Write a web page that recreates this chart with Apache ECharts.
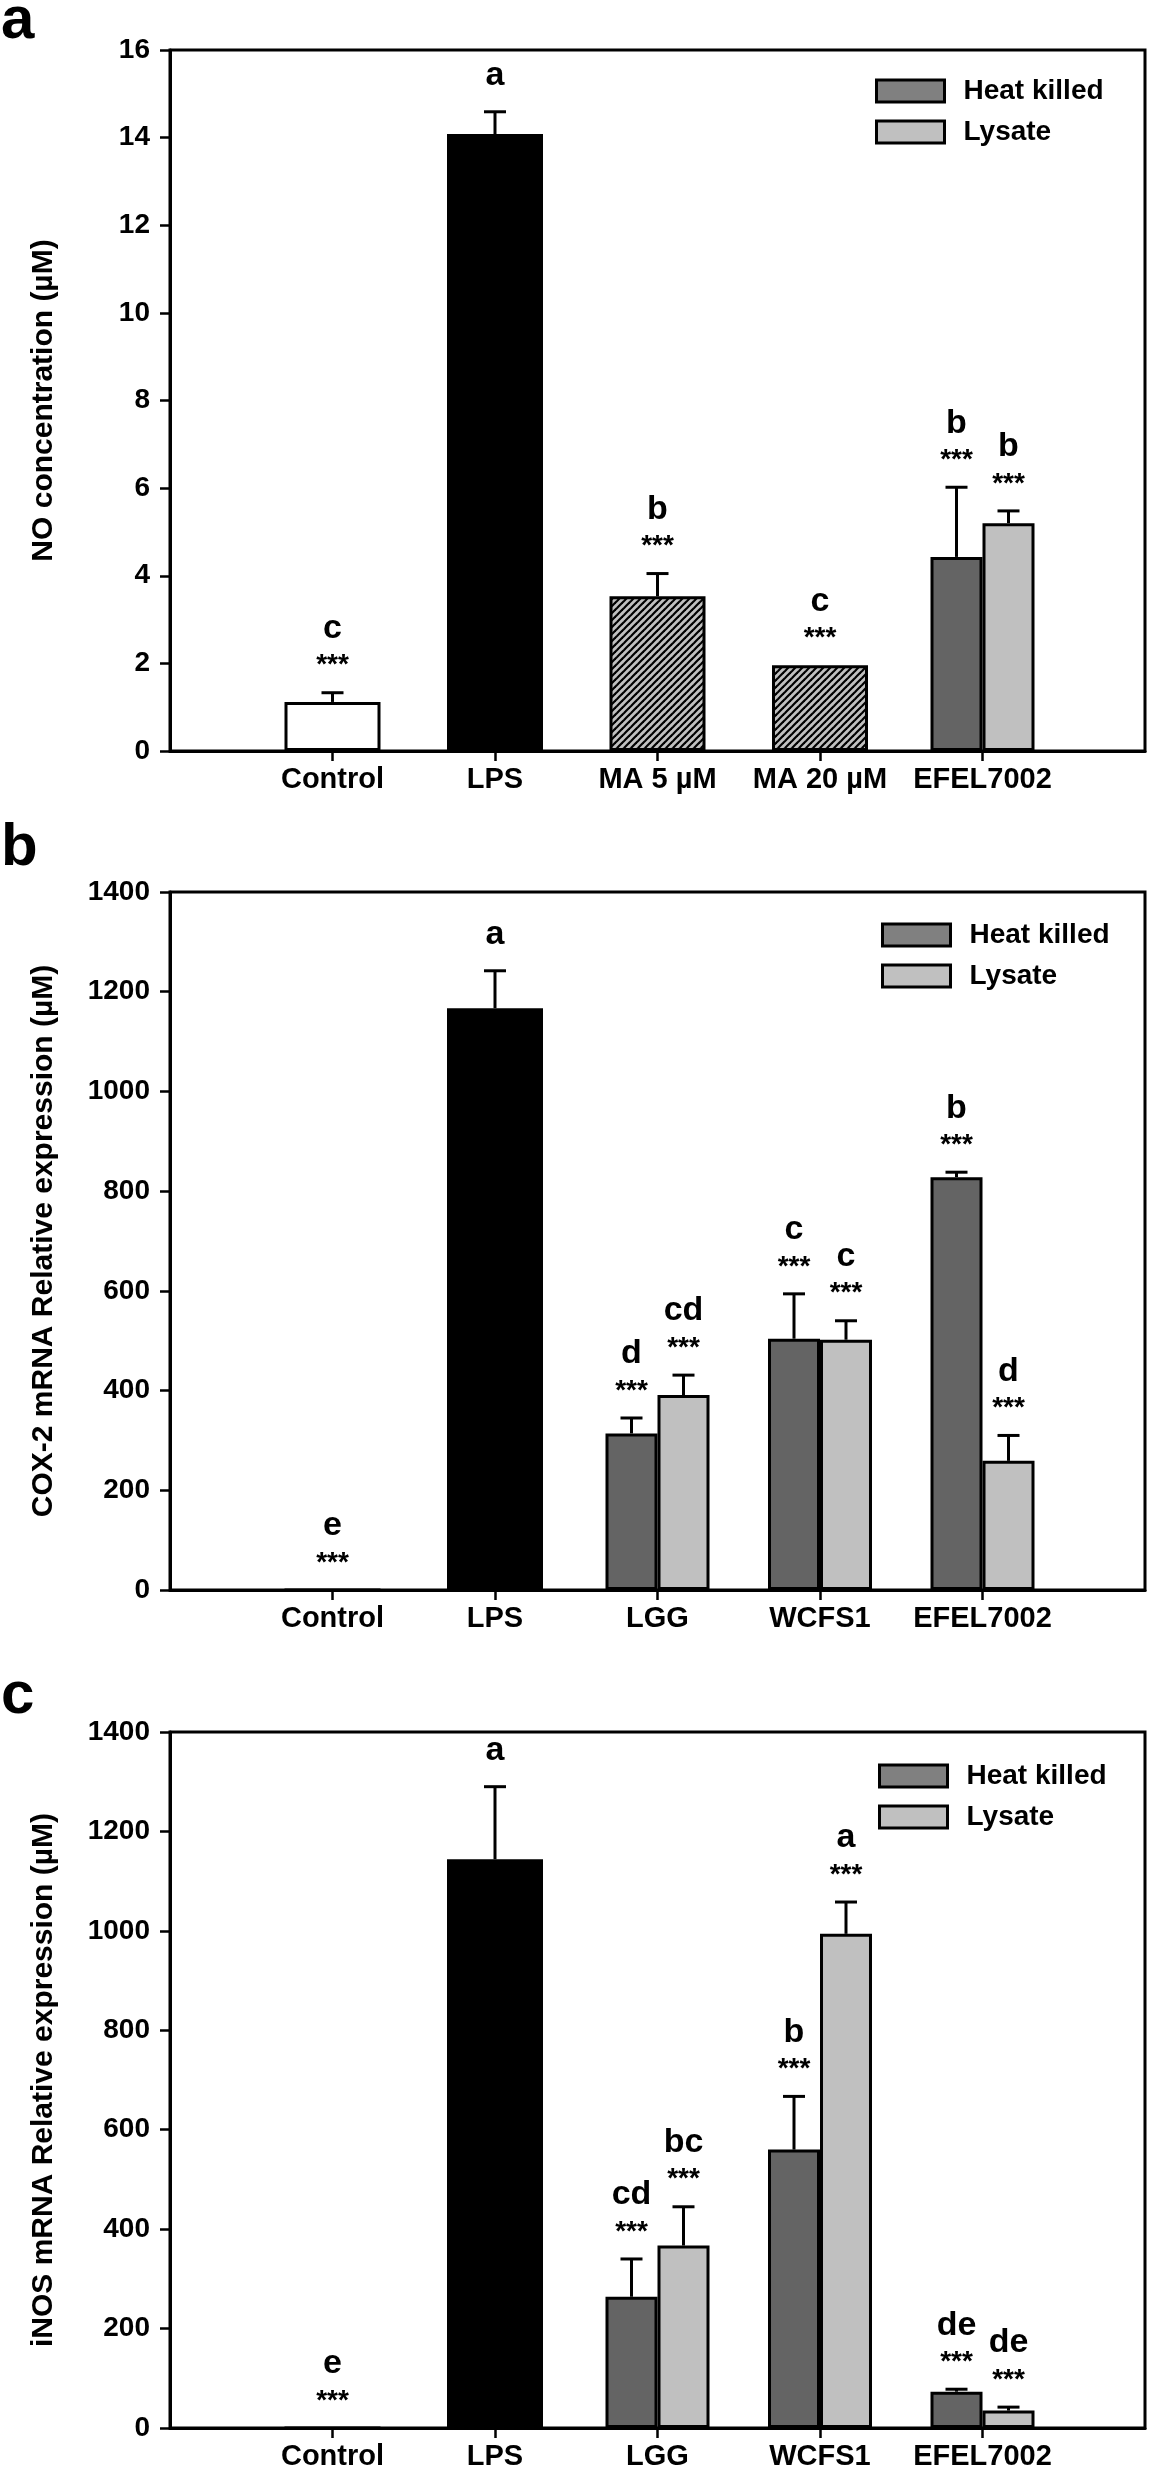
<!DOCTYPE html>
<html>
<head>
<meta charset="utf-8">
<script src="https://cdn.jsdelivr.net/npm/echarts@6/dist/echarts.min.js"></script>
<style>
html,body{margin:0;padding:0;background:#fff;}
#chart{width:1149px;height:2480px;}
</style>
</head>
<body>
<div id="chart"></div>
<script>
// ---------- DATA ----------
// Panel a: NO concentration
const catsA = ['Control', 'LPS', 'MA 5 µM', 'MA 20 µM', 'EFEL7002'];
const singleA = [1.12, 14.08, 3.53, 1.96, null];
const singleErrA = [0.21, 0.51, 0.52, 0, null];
const singleLetterA = ['c', 'a', 'b', 'c', ''];
const singleStarsA = ['***', '', '***', '***', ''];
const hkA = [null, null, null, null, 4.43];
const hkErrA = [null, null, null, null, 1.59];
const hkLetterA = ['', '', '', '', 'b'];
const lysA = [null, null, null, null, 5.20];
const lysErrA = [null, null, null, null, 0.28];
const lysLetterA = ['', '', '', '', 'b'];
const yTicksA = [0, 2, 4, 6, 8, 10, 12, 14, 16];

// Panel b: COX-2 mRNA
const catsB = ['Control', 'LPS', 'LGG', 'WCFS1', 'EFEL7002'];
const singleB = [0, 1167, null, null, null];
const singleErrB = [0, 75, null, null, null];
const singleLetterB = ['e', 'a', '', '', ''];
const singleStarsB = ['***', '', '', '', ''];
const hkB = [null, null, 314, 504, 828];
const hkErrB = [null, null, 31, 90, 10];
const hkLetterB = ['', '', 'd', 'c', 'b'];
const lysB = [null, null, 391, 502, 259];
const lysErrB = [null, null, 40, 38, 51];
const lysLetterB = ['', '', 'cd', 'c', 'd'];
const yTicksB = [0, 200, 400, 600, 800, 1000, 1200, 1400];

// Panel c: iNOS mRNA
const catsC = ['Control', 'LPS', 'LGG', 'WCFS1', 'EFEL7002'];
const singleC = [0, 1144, null, null, null];
const singleErrC = [0, 146, null, null, null];
const singleLetterC = ['e', 'a', '', '', ''];
const singleStarsC = ['***', '', '', '', ''];
const hkC = [null, null, 264, 560, 73];
const hkErrC = [null, null, 76, 107, 5];
const hkLetterC = ['', '', 'cd', 'b', 'de'];
const lysC = [null, null, 367, 994, 35];
const lysErrC = [null, null, 78, 64, 7];
const lysLetterC = ['', '', 'bc', 'a', 'de'];
const yTicksC = [0, 200, 400, 600, 800, 1000, 1200, 1400];

const yTitles = ['NO concentration (µM)', 'COX-2 mRNA Relative expression (µM)', 'iNOS mRNA Relative expression (µM)'];
const legendNames = ['Heat killed', 'Lysate'];
const panelLabels = ['a', 'b', 'c'];

// ---------- STYLE ----------
const FONT = '"Liberation Sans", Arial, Helvetica, sans-serif';
const HK_COLOR = '#646464';
const HK_LEGEND = '#808080';
const LYS_COLOR = '#c0c0c0';
const SINGLE_W = 96, GROUP_W = 52;

function makeHatch() {
  const c = document.createElement('canvas');
  c.width = 7; c.height = 7;
  const g = c.getContext('2d');
  g.fillStyle = '#c0c0c0';
  g.fillRect(0, 0, 7, 7);
  g.strokeStyle = '#000';
  g.lineWidth = 2.2;
  for (const o of [-7, 0, 7]) {
    g.beginPath();
    g.moveTo(o - 1, 8);
    g.lineTo(o + 8, -1);
    g.stroke();
  }
  return c;
}
const hatch = { image: makeHatch(), repeat: 'repeat' };
const singleFills = { Control: '#ffffff', LPS: '#000000' };

const grids = [
  { left: 170, top: 50, width: 975, height: 701 },
  { left: 170, top: 892, width: 975, height: 698 },
  { left: 170, top: 1732, width: 975, height: 696 }
];
const legendPos = [
  { left: 875, top: 77 },
  { left: 881, top: 921 },
  { left: 878, top: 1762 }
];
const labelBaselines = [42, 869, 1717];

const panels = [
  { cats: catsA, single: singleA, singleErr: singleErrA, singleLetter: singleLetterA, singleStars: singleStarsA,
    hk: hkA, hkErr: hkErrA, hkLetter: hkLetterA, lys: lysA, lysErr: lysErrA, lysLetter: lysLetterA, ticks: yTicksA },
  { cats: catsB, single: singleB, singleErr: singleErrB, singleLetter: singleLetterB, singleStars: singleStarsB,
    hk: hkB, hkErr: hkErrB, hkLetter: hkLetterB, lys: lysB, lysErr: lysErrB, lysLetter: lysLetterB, ticks: yTicksB },
  { cats: catsC, single: singleC, singleErr: singleErrC, singleLetter: singleLetterC, singleStars: singleStarsC,
    hk: hkC, hkErr: hkErrC, hkLetter: hkLetterC, lys: lysC, lysErr: lysErrC, lysLetter: lysLetterC, ticks: yTicksC }
];

const option = {
  backgroundColor: '#fff',
  animation: false,
  grid: [],
  xAxis: [],
  yAxis: [],
  legend: [],
  series: [],
  graphic: []
};

function annotSeries(p, annots) {
  return {
    type: 'custom',
    xAxisIndex: 2 * p,
    yAxisIndex: p,
    z: 10,
    silent: true,
    data: annots.map(a => [a.cat, a.v, a.e]),
    renderItem: function (params, api) {
      const a = annots[params.dataIndex];
      const p0 = api.coord([a.cat, a.v]);
      const p1 = api.coord([a.cat, a.v + a.e]);
      const x = p0[0] + a.off;
      const top = p1[1];
      const children = [];
      if (a.e > 0) {
        children.push({ type: 'line', shape: { x1: x, y1: p0[1], x2: x, y2: top }, style: { stroke: '#000', lineWidth: 3 } });
        children.push({ type: 'line', shape: { x1: x - 11, y1: top, x2: x + 11, y2: top }, style: { stroke: '#000', lineWidth: 3 } });
      }
      if (a.stars) {
        children.push({ type: 'text', style: { text: a.stars, x: x, y: top - 27, align: 'center', verticalAlign: 'middle',
          font: 'bold 28px ' + FONT, fill: '#000' } });
      }
      if (a.letter) {
        const dy = a.stars ? 64 : 36;
        children.push({ type: 'text', style: { text: a.letter, x: x, y: top - dy, align: 'center', verticalAlign: 'middle',
          font: 'bold 34px ' + FONT, fill: '#000' } });
      }
      return { type: 'group', children: children };
    }
  };
}

panels.forEach((P, p) => {
  const axisCats = [''].concat(P.cats, ['']);
  option.grid.push(Object.assign({ show: true, borderColor: '#000', borderWidth: 3, backgroundColor: 'transparent' }, grids[p]));
  const ticks = P.ticks;
  option.xAxis.push({
    type: 'category', gridIndex: p, data: axisCats, boundaryGap: false,
    axisLine: { lineStyle: { color: '#000', width: 3 } },
    axisTick: { show: true, inside: false, length: 10, lineStyle: { color: '#000', width: 2.5 },
      interval: (i) => i > 0 && i < axisCats.length - 1 },
    axisLabel: { interval: 0, color: '#000', fontSize: 29, fontWeight: 'bold', fontFamily: FONT, margin: 14 },
    splitLine: { show: false }
  });
  option.xAxis.push({
    type: 'category', gridIndex: p, data: axisCats, boundaryGap: false, show: false
  });
  option.yAxis.push({
    type: 'value', gridIndex: p, min: ticks[0], max: ticks[ticks.length - 1], interval: ticks[1] - ticks[0],
    name: yTitles[p], nameLocation: 'middle', nameGap: 111, nameRotate: 90,
    nameTextStyle: { color: '#000', fontSize: 30, fontWeight: 'bold', fontFamily: FONT },
    axisLine: { show: true, lineStyle: { color: '#000', width: 3 } },
    axisTick: { show: true, inside: false, length: 10, lineStyle: { color: '#000', width: 2.5 } },
    axisLabel: { color: '#000', fontSize: 28, fontWeight: 'bold', fontFamily: FONT, margin: 20,
      formatter: (v) => String(v) },
    splitLine: { show: false }
  });

  const singleData = [null].concat(P.single.map((v, i) => {
    if (v === null) return null;
    const name = P.cats[i];
    const fill = singleFills[name] || hatch;
    return { value: v, itemStyle: { color: fill } };
  }), [null]);
  option.series.push({
    type: 'bar', name: 'single', xAxisIndex: 2 * p, yAxisIndex: p, barWidth: SINGLE_W,
    itemStyle: { borderColor: '#000', borderWidth: 3 },
    data: singleData
  });
  option.series.push({
    type: 'bar', name: legendNames[0], xAxisIndex: 2 * p + 1, yAxisIndex: p, barWidth: GROUP_W, barGap: '0%',
    itemStyle: { color: HK_COLOR, borderColor: '#000', borderWidth: 3 },
    data: [null].concat(P.hk, [null])
  });
  option.series.push({
    type: 'bar', name: legendNames[1], xAxisIndex: 2 * p + 1, yAxisIndex: p, barWidth: GROUP_W, barGap: '0%',
    itemStyle: { color: LYS_COLOR, borderColor: '#000', borderWidth: 3 },
    data: [null].concat(P.lys, [null])
  });

  const annots = [];
  P.single.forEach((v, i) => {
    if (v === null) return;
    annots.push({ cat: i + 1, v: v, e: P.singleErr[i] || 0, off: 0, letter: P.singleLetter[i], stars: P.singleStars[i] });
  });
  const half = (GROUP_W) / 2;
  P.hk.forEach((v, i) => {
    if (v === null) return;
    annots.push({ cat: i + 1, v: v, e: P.hkErr[i] || 0, off: -half, letter: P.hkLetter[i], stars: '***' });
  });
  P.lys.forEach((v, i) => {
    if (v === null) return;
    annots.push({ cat: i + 1, v: v, e: P.lysErr[i] || 0, off: half, letter: P.lysLetter[i], stars: '***' });
  });
  option.series.push(annotSeries(p, annots));

  option.legend.push({
    left: legendPos[p].left, top: legendPos[p].top, orient: 'vertical', padding: 0,
    itemWidth: 68, itemHeight: 22, itemGap: 13, icon: 'rect', selectedMode: false,
    itemStyle: { borderColor: '#000', borderWidth: 3 },
    textStyle: { color: '#000', fontSize: 28, fontWeight: 'bold', fontFamily: FONT, lineHeight: 25, padding: [0, 0, 0, 14] },
    data: [
      { name: legendNames[0], itemStyle: { color: HK_LEGEND, borderColor: '#000', borderWidth: 3 } },
      { name: legendNames[1], itemStyle: { color: LYS_COLOR, borderColor: '#000', borderWidth: 3 } }
    ]
  });

  option.graphic.push({
    type: 'text', x: 1, y: labelBaselines[p] - 21,
    style: { text: panelLabels[p], font: 'bold 60px ' + FONT, fill: '#000', verticalAlign: 'middle', align: 'left' }
  });
});

const chart = echarts.init(document.getElementById('chart'), null, { renderer: 'canvas' });
chart.setOption(option);
</script>
</body>
</html>
